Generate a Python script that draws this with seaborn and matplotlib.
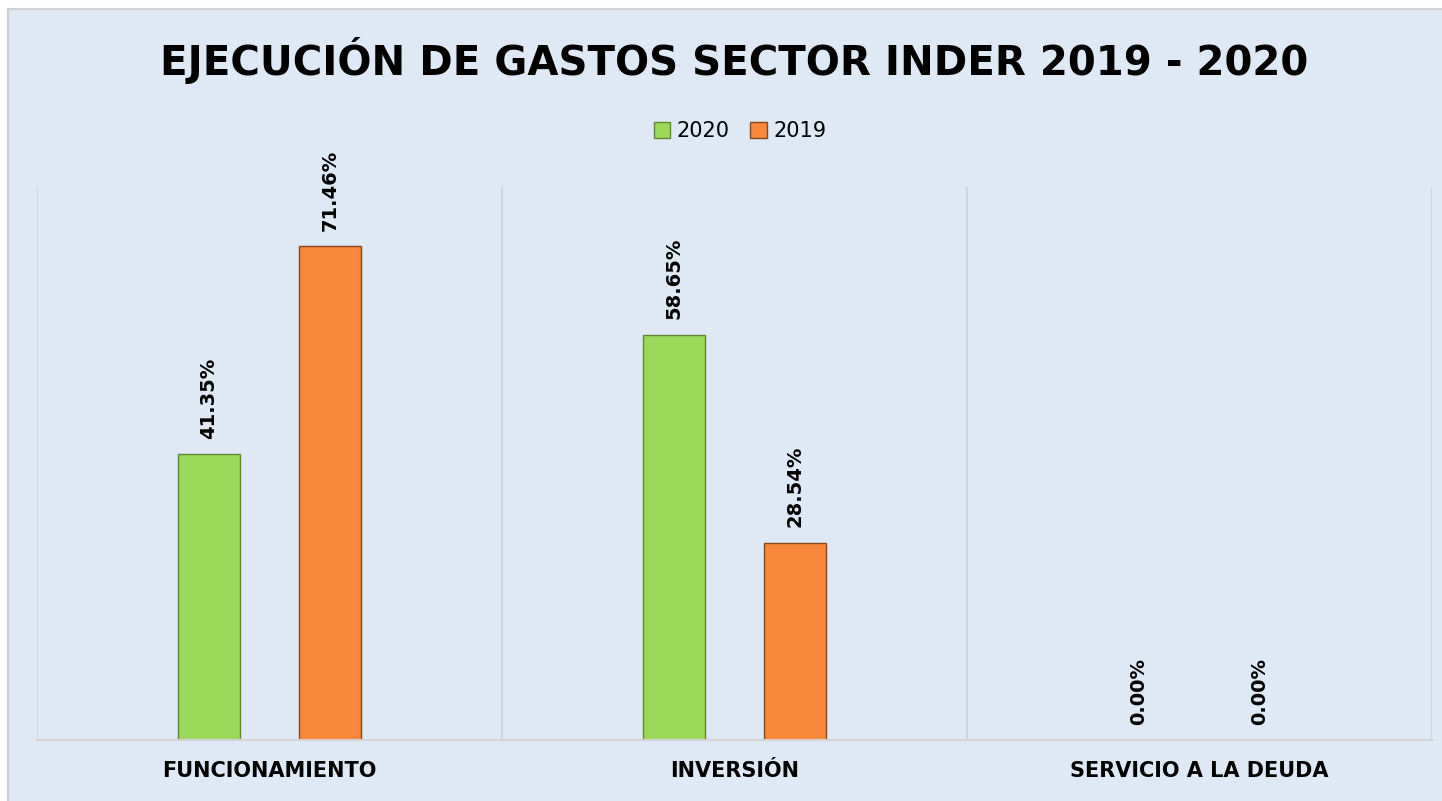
import numpy as np
import pandas as pd
import matplotlib
matplotlib.use('Agg')
import matplotlib.pyplot as plt
from matplotlib.patches import Rectangle
import seaborn as sns

# Data
categories = ['FUNCIONAMIENTO', 'INVERSIÓN', 'SERVICIO A LA DEUDA']
years = ['2020', '2019']
values_2020 = [41.35, 58.65, 0.00]
values_2019 = [71.46, 28.54, 0.00]

df = pd.DataFrame({
    'Categoria': categories * 2,
    'Año': [years[0]] * 3 + [years[1]] * 3,
    'Valor': values_2020 + values_2019,
})

bg = '#DEE9F5'
colors = {'2020': '#9CD95A', '2019': '#F7883C'}
edges = {'2020': '#5E8A2E', '2019': '#8A4618'}

sns.set_style('white')
plt.rcParams['font.family'] = ['DejaVu Sans']

fig = plt.figure(figsize=(14.42, 8.01), dpi=100)
fig.patch.set_facecolor('white')
# chart area background with thin gray border
fig.patches.append(Rectangle((8 / 1442, -0.01), 1.0, 1 - 9 / 801 + 0.01,
                             transform=fig.transFigure, facecolor=bg,
                             edgecolor='#D0D0D0', linewidth=1.5, zorder=-5))

ax = fig.add_axes([37 / 1442, 1 - 740 / 801, (1432 - 37) / 1442, (740 - 187) / 801])
ax.set_facecolor('none')

sns.barplot(data=df, x='Categoria', y='Valor', hue='Año', hue_order=years,
            palette=colors, width=0.52, gap=0.48, ax=ax, legend=False,
            saturation=1)

# bar edges to give a bit of depth
for i, cont in enumerate(ax.containers):
    for bar in cont:
        bar.set_edgecolor(edges[years[i]])
        bar.set_linewidth(1.0)

# data labels (rotated)
for cont in ax.containers:
    for bar in cont:
        h = bar.get_height()
        ax.annotate(f'{h:.2f}%', (bar.get_x() + bar.get_width() / 2, h),
                    xytext=(0, 11), textcoords='offset points',
                    rotation=90, ha='center', va='bottom',
                    fontsize=14, fontweight='bold', color='black')

ax.set_ylim(0, 80)
ax.set_xlim(-0.5, 2.5)
ax.set_yticks([])
ax.set_xlabel('')
ax.set_ylabel('')
for s in ['top', 'left', 'right']:
    ax.spines[s].set_visible(False)
ax.spines['bottom'].set_color('#D4D4D4')
ax.spines['bottom'].set_linewidth(1.5)

# vertical separators between categories
for xv in [-0.5, 0.5, 1.5, 2.5]:
    ax.axvline(xv, color='#D4D4D4', linewidth=1.5, zorder=0)

ax.tick_params(axis='x', length=0, pad=15)
ax.set_xticks(range(len(categories)))
ax.set_xticklabels(categories, fontsize=15, fontweight='bold', color='black')

# legend
handles = [Rectangle((0, 0), 1, 1, facecolor=colors[y], edgecolor=edges[y]) for y in years]
leg = fig.legend(handles, years, loc='center', bbox_to_anchor=(740 / 1442, 1 - 131 / 801),
                 ncol=2, frameon=False, fontsize=15, handlelength=0.8, handleheight=0.8,
                 handletextpad=0.3, columnspacing=1.0)
for t in leg.get_texts():
    t.set_color('black')

fig.text(734 / 1442, 1 - 60 / 801, 'EJECUCIÓN DE GASTOS SECTOR INDER 2019 - 2020',
         ha='center', va='center', fontsize=29, fontweight='bold', color='black')

fig.savefig('out.png', dpi=100, facecolor=fig.get_facecolor())
